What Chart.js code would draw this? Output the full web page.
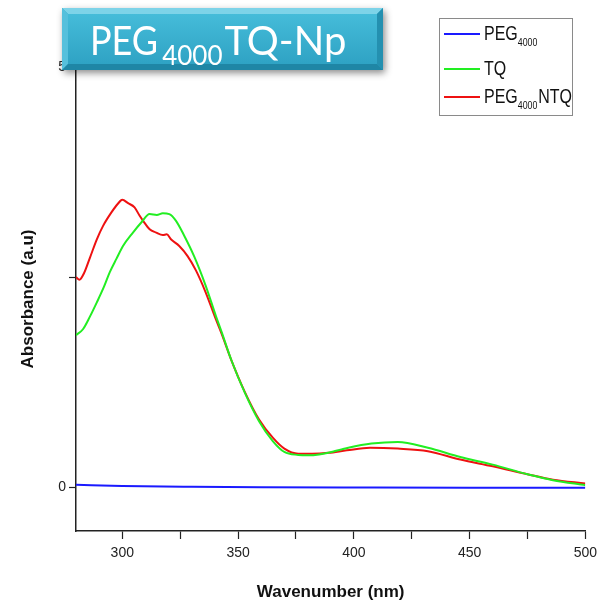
<!DOCTYPE html>
<html>
<head>
<meta charset="utf-8">
<script src="https://cdn.jsdelivr.net/npm/chart.js@4.4.1/dist/chart.umd.min.js"></script>
<style>
  html, body { margin: 0; padding: 0; background: #fff; }
  #wrap { width: 603px; height: 606px; position: relative; }
</style>
</head>
<body>
<div id="wrap"><canvas id="uvChart" width="603" height="606"></canvas></div>
<script>
// wavelength (nm) and absorbance values for each spectrum
const pegNm = [280, 300, 330, 360, 400, 450, 500];
const pegAbs = [0.03, 0.015, 0.005, 0.0, -0.003, -0.005, -0.005];

const tqNm = [280, 283, 286, 289, 292, 294.6, 297.5, 300.3, 304.6, 308.2, 311.8, 314.9, 317.5, 320.3,
  323.2, 326.8, 331, 336, 340.4, 343, 347, 353, 359, 365, 370, 376, 380.4, 385, 389, 397.6, 407.6,
  419, 432, 446, 460, 475, 486, 500];
const tqAbs = [1.81, 1.88, 2.03, 2.2, 2.38, 2.56, 2.72, 2.87, 3.03, 3.15, 3.25, 3.24, 3.26, 3.25,
  3.17, 2.99, 2.75, 2.40, 2.04, 1.84, 1.52, 1.12, 0.79, 0.55, 0.42, 0.385, 0.38, 0.39, 0.41, 0.47, 0.52,
  0.54, 0.47, 0.36, 0.27, 0.155, 0.085, 0.025];

const ntqNm = [280, 281.5, 283.5, 286, 289, 291.7, 295.3, 298, 300, 302.5, 305.3, 307.5, 309, 311.8,
  314.6, 317.5, 319.2, 321, 324.6, 328.2, 331.8, 336, 340.4, 343, 347, 353, 359, 365, 370, 376, 382,
  389, 397, 407, 419, 432, 446, 460, 475, 486, 500];
const ntqAbs = [2.50, 2.47, 2.55, 2.73, 2.95, 3.11, 3.27, 3.37, 3.42, 3.38, 3.33, 3.23, 3.17, 3.07,
  3.03, 3.00, 3.01, 2.95, 2.87, 2.75, 2.58, 2.32, 2.0, 1.82, 1.52, 1.13, 0.81, 0.59, 0.46, 0.40, 0.40,
  0.41, 0.44, 0.47, 0.46, 0.43, 0.33, 0.25, 0.155, 0.09, 0.045];

const xTicks = [300, 325, 350, 375, 400, 425, 450, 475, 500];
const yTicks = [0, 2.5, 5];

const toPoints = (xs, ys) => xs.map((x, i) => ({ x: x, y: ys[i] }));

// bevelled teal banner with the sample name
const bannerPlugin = {
  id: "banner",
  afterDraw(chart) {
    const ctx = chart.ctx;
    const x = 62, y = 8, w = 321, h = 62, b = 6;
    ctx.save();
    ctx.shadowColor = "rgba(0,0,0,0.45)";
    ctx.shadowBlur = 7;
    ctx.shadowOffsetX = 2;
    ctx.shadowOffsetY = 3;
    ctx.fillStyle = "#2fa6c6";
    ctx.fillRect(x, y, w, h);
    ctx.restore();

    ctx.save();
    // bevel edges
    const edge = (pts, color) => {
      ctx.beginPath();
      ctx.moveTo(pts[0], pts[1]);
      for (let i = 2; i < pts.length; i += 2) ctx.lineTo(pts[i], pts[i + 1]);
      ctx.closePath();
      ctx.fillStyle = color;
      ctx.fill();
    };
    edge([x, y, x + w, y, x + w - b, y + b, x + b, y + b], "#7dd3e8");
    edge([x, y, x + b, y + b, x + b, y + h - b, x, y + h], "#56c0dc");
    edge([x + w, y, x + w, y + h, x + w - b, y + h - b, x + w - b, y + b], "#2490b0");
    edge([x, y + h, x + w, y + h, x + w - b, y + h - b, x + b, y + h - b], "#1f86a5");
    const g = ctx.createLinearGradient(0, y + b, 0, y + h - b);
    g.addColorStop(0, "#45bcd9");
    g.addColorStop(1, "#2fa3c4");
    ctx.fillStyle = g;
    ctx.fillRect(x + b, y + b, w - 2 * b, h - 2 * b);

    ctx.fillStyle = "#fff";
    ctx.textBaseline = "alphabetic";
    const big = '40px Lato, "Open Sans", sans-serif';
    const small = '26px Lato, "Open Sans", sans-serif';
    ctx.font = big;
    let tx = 90;
    ctx.save();
    ctx.translate(tx, 55);
    ctx.scale(0.9, 1);
    ctx.fillText("PEG", 0, 0);
    ctx.restore();
    tx += ctx.measureText("PEG").width * 0.9 + 4;
    ctx.font = small;
    ctx.fillText("4000", tx, 65);
    tx += ctx.measureText("4000").width + 2;
    ctx.font = big;
    ctx.fillText("TQ-Np", tx, 55);
    ctx.restore();
  }
};

// boxed legend with subscripted labels
const legendPlugin = {
  id: "subLegend",
  afterDraw(chart) {
    const ctx = chart.ctx;
    ctx.save();
    ctx.fillStyle = "#fff";
    ctx.fillRect(439.5, 18.5, 133, 97);
    ctx.strokeStyle = "#8a8a8a";
    ctx.lineWidth = 1;
    ctx.strokeRect(439.5, 18.5, 133, 97);

    const rows = [
      { color: "#1a1aff", y: 34, parts: [["PEG", 0], ["4000", 1]] },
      { color: "#22ee22", y: 69, parts: [["TQ", 0]] },
      { color: "#ee1111", y: 97, parts: [["PEG", 0], ["4000", 1], ["NTQ", 0]] }
    ];
    rows.forEach(r => {
      ctx.strokeStyle = r.color;
      ctx.lineWidth = 2;
      ctx.beginPath();
      ctx.moveTo(444, r.y);
      ctx.lineTo(480, r.y);
      ctx.stroke();

      ctx.save();
      ctx.translate(484, r.y);
      ctx.scale(0.8, 1);
      ctx.fillStyle = "#111";
      ctx.textBaseline = "middle";
      let tx = 0;
      r.parts.forEach(([t, sub]) => {
        ctx.font = sub ? '11px "Liberation Sans", Arial, sans-serif' : '20px "Liberation Sans", Arial, sans-serif';
        ctx.fillText(t, tx, sub ? 9 : 0);
        tx += ctx.measureText(t).width + (sub ? 1 : 0);
      });
      ctx.restore();
    });
    ctx.restore();
  }
};

const data = {
  datasets: [
    { label: "PEG4000", data: toPoints(pegNm, pegAbs), borderColor: "#1a1aff" },
    { label: "TQ", data: toPoints(tqNm, tqAbs), borderColor: "#22ee22" },
    { label: "PEG4000NTQ", data: toPoints(ntqNm, ntqAbs), borderColor: "#ee1111" }
  ].map(d => Object.assign(d, {
    borderWidth: 2,
    pointRadius: 0,
    fill: false,
    cubicInterpolationMode: "monotone",
    tension: 0.4
  }))
};

const tickFont = { family: '"Liberation Sans", Arial, sans-serif', size: 14 };
const titleFont = { family: '"Liberation Sans", Arial, sans-serif', size: 17, weight: "bold" };

const config = {
  type: "line",
  data: data,
  options: {
    responsive: false,
    animation: false,
    layout: { padding: { top: 67, right: 15, left: 0, bottom: 0 } },
    plugins: {
      legend: { display: false },
      tooltip: { enabled: false }
    },
    scales: {
      x: {
        type: "linear",
        min: 280,
        max: 500,
        afterBuildTicks: s => { s.ticks = xTicks.map(v => ({ value: v })); },
        afterFit: s => { s.height = 75; },
        grid: { drawOnChartArea: false, tickLength: 8, tickColor: "#222", tickWidth: 1.2 },
        border: { color: "#222", width: 1.5 },
        ticks: {
          color: "#222",
          font: tickFont,
          padding: 6,
          maxRotation: 0,
          autoSkip: false,
          callback: v => (v % 50 === 0 ? v : "")
        },
        title: { display: true, text: "Wavenumber (nm)", color: "#111", font: titleFont, padding: { top: 0, bottom: 3 } }
      },
      y: {
        min: -0.52,
        max: 5,
        afterBuildTicks: s => { s.ticks = yTicks.map(v => ({ value: v })); },
        afterFit: s => { s.width = 76; },
        grid: { drawOnChartArea: false, tickLength: 7, tickColor: "#222", tickWidth: 1.2 },
        border: { color: "#222", width: 1.5 },
        ticks: {
          color: "#222",
          font: tickFont,
          padding: 3,
          callback: v => (v === 2.5 ? "" : v)
        },
        title: { display: true, text: "Absorbance (a.u)", color: "#111", font: titleFont, padding: { top: 18, bottom: 0 } }
      }
    }
  },
  plugins: [legendPlugin, bannerPlugin]
};

new Chart(document.getElementById("uvChart").getContext("2d"), config);
</script>
</body>
</html>
